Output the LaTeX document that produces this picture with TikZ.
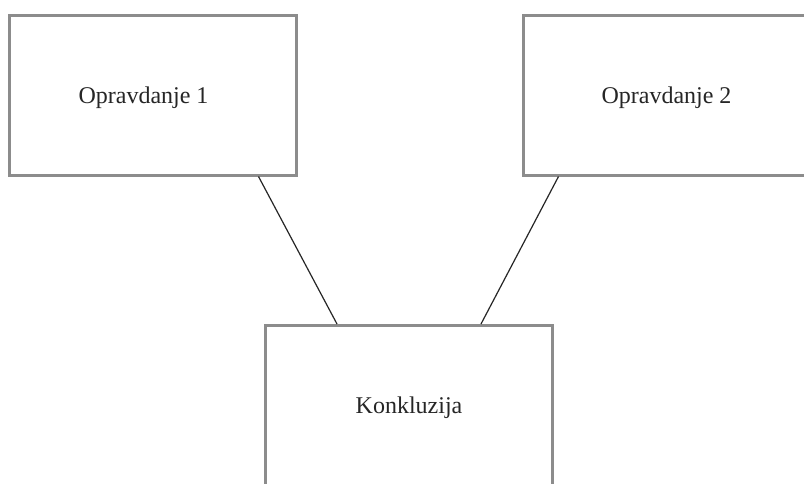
\documentclass[tikz,border=0pt]{standalone}
\usepackage{fontspec}
\setmainfont{Liberation Serif}
\definecolor{boxgray}{HTML}{8C8C8C}
\definecolor{txt}{HTML}{262626}
\tikzset{
  argbox/.style={draw=boxgray, line width=3pt, rectangle, inner sep=0pt,
    minimum width=287pt, minimum height=160pt, text=txt, text depth=0pt,
    font=\fontsize{24}{28}\selectfont},
  link/.style={draw=black!85, line width=1.2pt}
}
\begin{document}
\begin{tikzpicture}[x=1pt,y=-1pt]
\useasboundingbox (0,0) rectangle (804,483);
\fill[white] (0,0) rectangle (804,483);
\clip (0,0) rectangle (804,483);
\node[argbox] (b1) at (152.5,95) {\hspace*{-18pt}Opravdanje 1};
\node[argbox] (b2) at (666.5,95) {Opravdanje 2};
\node[argbox] (b3) at (409,405.5) {Konkluzija};
\draw[link] ([xshift=-39pt]b1.south east) -- ([xshift=73pt]b3.north west);
\draw[link] ([xshift=37pt]b2.south west) -- ([xshift=-73pt]b3.north east);
\end{tikzpicture}
\end{document}
